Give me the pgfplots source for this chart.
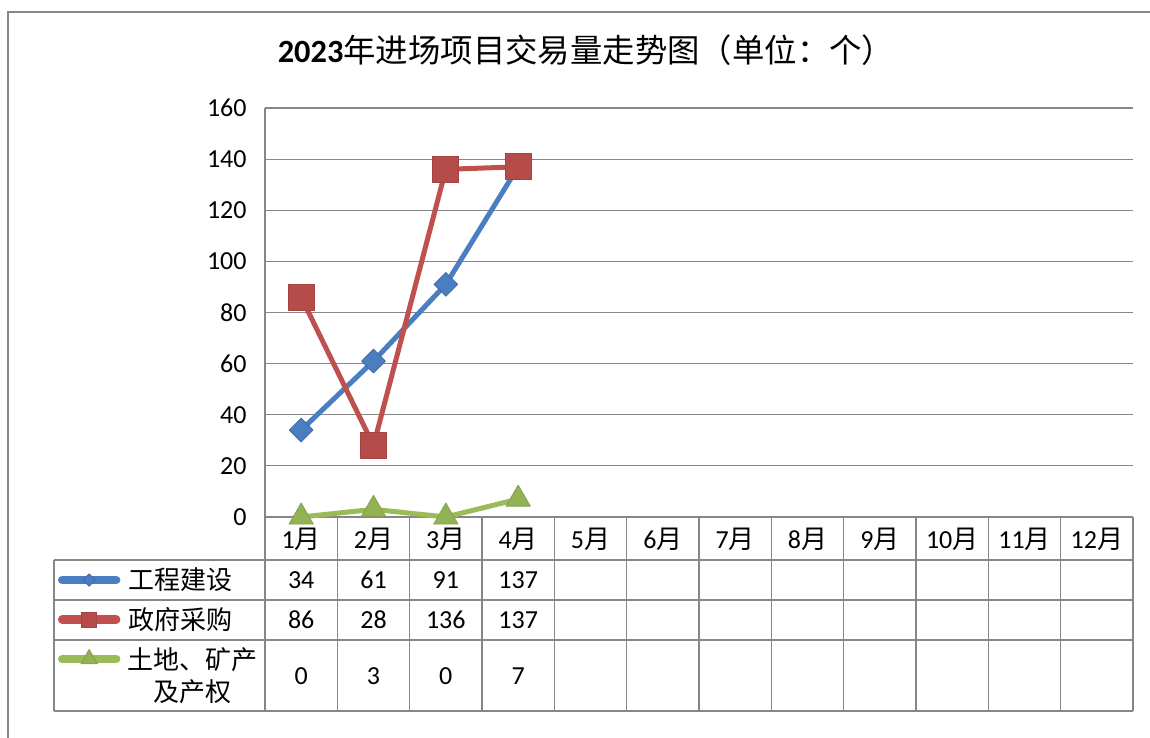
\documentclass[border=0pt]{standalone}
\usepackage{pgfplots}
\pgfplotsset{compat=1.18}
\usepackage{fontspec}
\setmainfont{Carlito}
\newfontfamily\cjk{Noto Sans CJK SC}
\definecolor{gridgray}{RGB}{134,134,134}
\definecolor{sblue}{RGB}{74,126,193}
\definecolor{sred}{RGB}{192,80,77}
\definecolor{sgreen}{RGB}{155,187,89}
\begin{document}
\begin{tikzpicture}
\useasboundingbox (0,0) rectangle (575pt,-369pt);
\begin{axis}[
  at={(132.5pt,-54pt)}, anchor=north west,
  scale only axis, width=434pt, height=204.5pt,
  xmin=0.5, xmax=12.5, ymin=0, ymax=160,
  ytick={0,20,...,160}, xtick=\empty,
  axis x line*=bottom, axis y line*=left,
  axis line style={draw=gridgray, line width=0.6pt},
  ymajorgrids, grid style={draw=gridgray, line width=0.6pt},
  major tick length=0pt,
  /pgf/number format/assume math mode=true,
  yticklabel style={font=\fontsize{13}{15}\selectfont, inner sep=0pt, xshift=-9pt},
  clip=false,
  legend style={at={(-0.23848,-0.10575)}, anchor=north west, draw=none, fill=none,
    inner sep=0pt, outer sep=0pt, row sep=0pt, column sep=0pt,
    nodes={inner sep=0pt, outer sep=0pt}},
  legend image code/.code={
    \path[draw=none, fill=none] (0pt,-9.875pt) rectangle (27pt,9.875pt);
    \draw[line width=4.2pt, line cap=round, mark repeat=2, mark phase=2]
      plot coordinates {(0pt,0pt) (13.5pt,0pt) (27pt,0pt)};
  },
]
\addplot[sblue, line width=2.5pt, line join=round, mark=square*, mark size=4.2pt,
  mark options={rotate=45, line width=0.4pt, fill=sblue, draw=sblue!85!black},
  legend image post style={mark size=2.2pt}]
  coordinates {(1,34) (2,61) (3,91) (4,137)};
\addlegendentry{\mbox{}}
\addplot[sred, line width=2.5pt, line join=round, mark=square*, mark size=6.5pt,
  mark options={line width=0.4pt, fill=sred!95!black, draw=sred!85!black},
  legend image post style={mark size=3.7pt}]
  coordinates {(1,86) (2,28) (3,136) (4,137)};
\addlegendentry{\mbox{}}
\addplot[sgreen, line width=2.5pt, line join=round, mark=triangle*, mark size=7pt,
  mark options={line width=0.4pt, fill=sgreen!95!black, draw=sgreen!85!black},
  legend image post style={mark size=4.8pt}]
  coordinates {(1,0) (2,3) (3,0) (4,7)};
\addlegendentry{\mbox{}}
\end{axis}
\begin{scope}[x=0.5pt, y=-0.5pt]
  % outer frame
  \draw[gridgray, line width=0.6pt] (8,745) -- (8,12) -- (1160,12);
  % title
  \node at (586,50) {\fontsize{16.2}{19}\selectfont\bfseries 2023{\cjk\mdseries 年进场项目交易量走势图（单位：个）}};
  % data table grid
  \begin{scope}[gridgray, line width=0.7pt]
    \foreach \yy in {560,600,640,711} \draw (54,\yy) -- (1133,\yy);
    \draw (54,560) -- (54,711);
    \foreach \k in {0,...,12} \draw ({265+72.333*\k},517) -- ({265+72.333*\k},711);
  \end{scope}
  \begin{scope}[font=\fontsize{13}{16}\selectfont]
    \foreach \k in {1,...,12} \node at ({265+72.333*(\k-0.5)},539) {\k{\cjk 月}};
    \node at (180,580) {\cjk 工程建设};
    \node at (180,620) {\cjk 政府采购};
    \node[align=center] at (192,676) {\cjk 土地、矿产\\\cjk 及产权};
    \node at (301.2,580) {34};
    \node at (373.5,580) {61};
    \node at (445.8,580) {91};
    \node at (518.2,580) {137};
    \node at (301.2,620) {86};
    \node at (373.5,620) {28};
    \node at (445.8,620) {136};
    \node at (518.2,620) {137};
    \node at (301.2,676) {0};
    \node at (373.5,676) {3};
    \node at (445.8,676) {0};
    \node at (518.2,676) {7};
  \end{scope}
\end{scope}
\end{tikzpicture}
\end{document}
